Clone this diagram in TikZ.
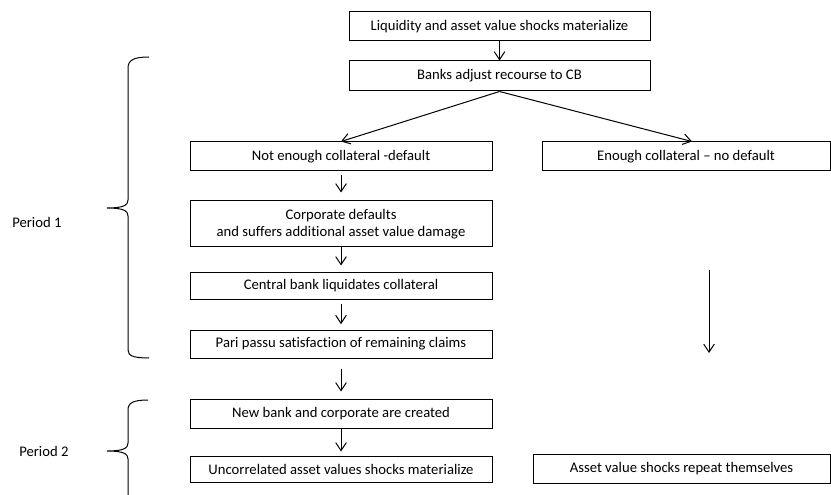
\documentclass[tikz,border=0pt]{standalone}
\usepackage{fontspec}
\setmainfont{Carlito}[Ligatures=NoCommon]
\usetikzlibrary{arrows.meta,calc}
\begin{document}
\begin{tikzpicture}[x=0.75pt,y=-0.75pt,
  box/.style={draw, line width=0.75pt, inner sep=0pt, align=center,
    font=\fontsize{11pt}{12.5pt}\selectfont},
  sz/.style 2 args={minimum width=#1*0.75pt, minimum height=#2*0.75pt},
  arr/.style={-{Straight Barb[length=6pt,width=8pt]}, line width=0.75pt},
  bracepath/.style={line width=0.75pt},
  lbl/.style={anchor=west, inner sep=0pt, font=\fontsize{11pt}{12.5pt}\selectfont}]
\useasboundingbox (0,0) rectangle (831,495);

% boxes
\node[box, sz={301}{29}] (b1) at (499.5,26.5) {Liquidity and asset value shocks materialize};
\node[box, sz={301}{30}] (b2) at (499.5,76) {Banks adjust recourse to CB};
\node[box, sz={302}{29}] (b3) at (341,156.5) {Not enough collateral -default};
\node[box, sz={288}{29}] (b4) at (686,156.5) {Enough collateral -- no default};
\node[box, sz={302}{46}] (b5) at (341,224) {Corporate defaults\\and suffers additional asset value damage};
\node[box, sz={302}{27}] (b6) at (341,285.5) {Central bank liquidates collateral};
\node[box, sz={302}{28}] (b7) at (341,344) {Pari passu satisfaction of remaining claims};
\node[box, sz={302}{29}] (b8) at (341,413.5) {New bank and corporate are created};
\node[box, sz={302}{26}] (b9) at (341,469) {Uncorrelated asset values shocks materialize};
\node[box, sz={297}{29}] (b10) at (681.5,468.5) {Asset value shocks repeat themselves};

% labels
\node[lbl] (p1) at (12,222) {Period 1};
\node[lbl] (p2) at (19,451) {Period 2};

% connectors
\draw[arr] (b1) -- (b2);
\draw[arr] (b2.south) -- (b3.north);
\draw[arr] (b2.south) -- ($(b4.north)+(6,0)$);
\draw[arr, shorten <=3pt, shorten >=6pt] (b3) -- (b5);
\draw[arr, shorten >=4.5pt] (b5) -- (b6);
\draw[arr, shorten <=3pt, shorten >=4pt] (b6) -- (b7);
\draw[arr, shorten <=7.5pt, shorten >=5.25pt] (b7) -- (b8);
\draw[arr, shorten >=3pt] (b8) -- (b9);

\coordinate (r1) at (709,270);
\coordinate (r2) at (709,353);
\draw[arr] (r1) -- (r2);

% braces
\draw[bracepath] (149,57) .. controls (134,57) and (128,60) .. (128,68) -- (128,200)
  .. controls (128,205) and (124,208) .. (107,208)
  .. controls (124,208) and (128,211) .. (128,216) -- (128,350)
  .. controls (128,356) and (134,358) .. (149,358);
\draw[bracepath] (148,400) .. controls (133,400) and (128,403) .. (128,410) -- (128,443)
  .. controls (128,448) and (124,451) .. (107,451)
  .. controls (124,451) and (128,454) .. (128,459) -- (128,500);
\end{tikzpicture}
\end{document}
